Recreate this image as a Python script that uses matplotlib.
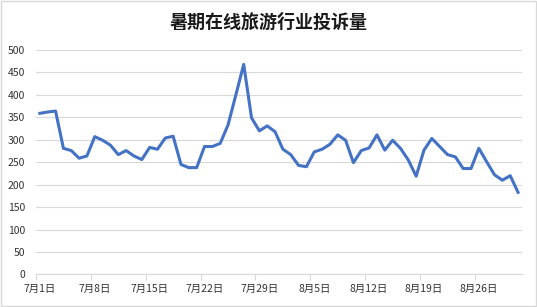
import numpy as np
import matplotlib.pyplot as plt

plt.rcParams['font.family'] = ['Noto Sans CJK SC', 'DejaVu Sans']

# daily complaints, 7/1 .. 8/31
values = [359, 362, 364, 281, 276, 259, 264, 307, 299, 288,
          267, 276, 264, 256, 283, 279, 304, 308, 245, 238,
          238, 285, 285, 292, 333, 400, 468, 349, 320, 331,
          318, 279, 267, 243, 240, 273, 279, 290, 311, 299,
          249, 276, 282, 311, 277, 299, 281, 255, 219, 277,
          303, 285, 267, 262, 236, 236, 281, 251, 222, 210,
          220, 183]
tick_labels = ['7月1日', '7月8日', '7月15日', '7月22日', '7月29日',
               '8月5日', '8月12日', '8月19日', '8月26日']
title = '暑期在线旅游行业投诉量'

x = np.arange(len(values))

fig = plt.figure(figsize=(5.37, 3.07), dpi=100)
fig.patches.append(plt.Rectangle((0.001, 0.002), 0.997, 0.995, transform=fig.transFigure,
                                 fill=False, edgecolor='#d9d9d9', linewidth=1))
ax = fig.add_axes([0.067, 0.106, 0.905, 0.731])

ax.plot(x, values, color='#4472C4', linewidth=2.2, solid_joinstyle='round', zorder=3)

ax.set_xlim(-0.5, len(values) - 0.5)
ax.set_ylim(0, 500)
ax.set_yticks(np.arange(0, 501, 50))
ax.yaxis.grid(True, color='#d9d9d9', linewidth=0.8)
ax.set_axisbelow(True)

ax.set_xticks(np.arange(0, len(values), 7))
ax.set_xticklabels(tick_labels)
ax.set_xticks(np.arange(-0.5, len(values), 7), minor=True)
ax.tick_params(axis='x', which='major', length=0, pad=7, labelsize=7.5, labelcolor='#333333')
ax.tick_params(axis='x', which='minor', length=4, color='#d9d9d9', width=0.8)
ax.tick_params(axis='y', length=0, pad=8, labelsize=7.5, labelcolor='#333333')

for s in ['top', 'right', 'left']:
    ax.spines[s].set_visible(False)
ax.spines['bottom'].set_color('#d9d9d9')
ax.spines['bottom'].set_linewidth(0.8)

fig.text(0.5, 0.928, title, ha='center', va='center', fontsize=13, fontweight='bold', color='#1a1a1a')

fig.savefig('out.png', dpi=100)
